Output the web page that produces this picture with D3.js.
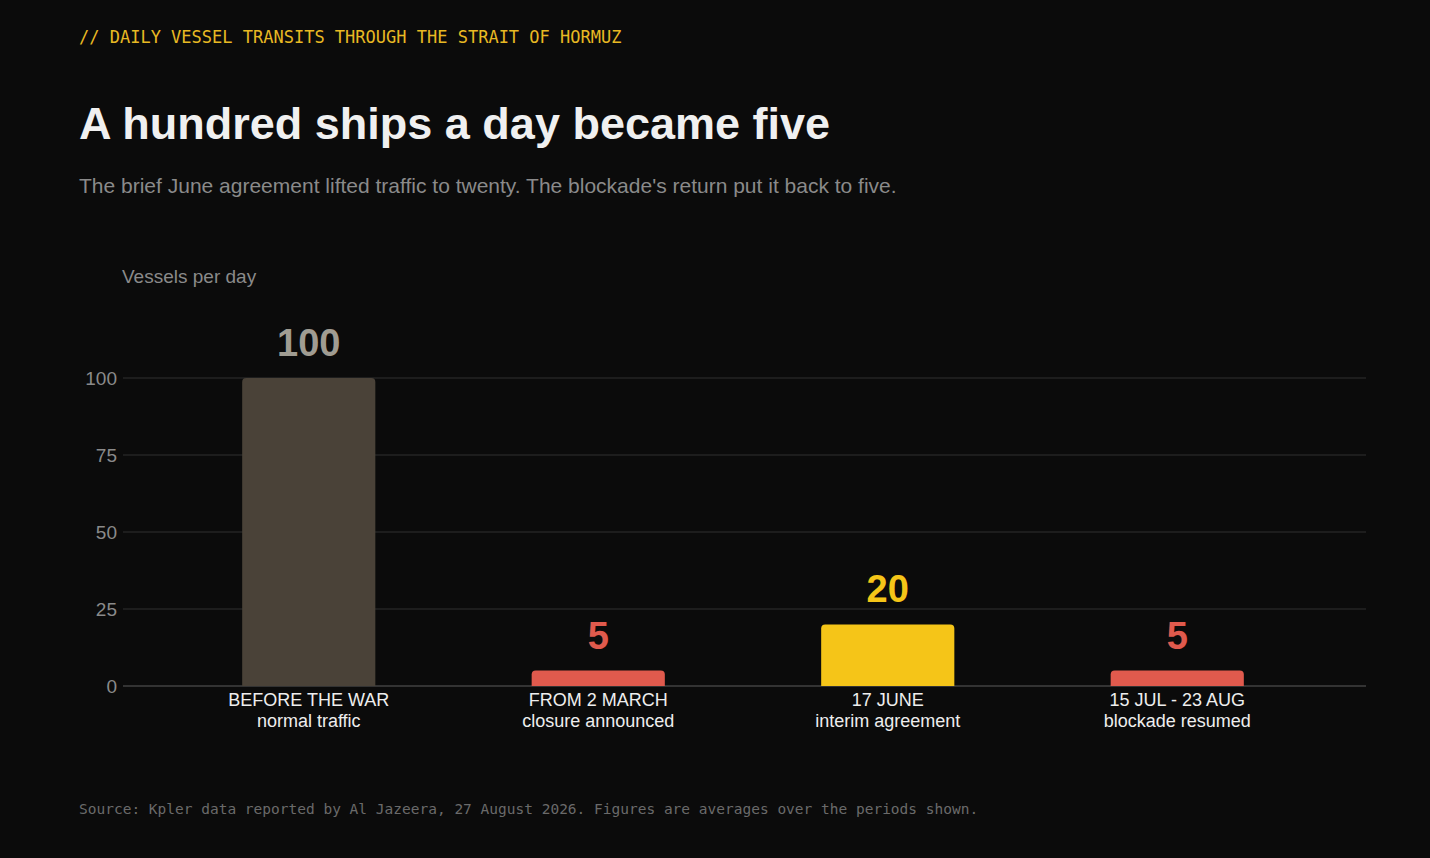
<!DOCTYPE html><html><head><meta charset="utf-8"><script src="https://cdn.jsdelivr.net/npm/d3@7"></script>
<style>body{margin:0;background:#0b0b0b}</style></head><body><svg id="c" width="1430" height="858"></svg>
<script>
const categories=["BEFORE THE WAR","FROM 2 MARCH","17 JUNE","15 JUL - 23 AUG"];
const subLabels=["normal traffic","closure announced","interim agreement","blockade resumed"];
const values=[100,5,20,5];
const barColors=["#4a4238","#e05a4d","#f5c518","#e05a4d"];
const labelColors=["#a09c92","#e05a4d","#f5c518","#e05a4d"];
const ticks=[0,25,50,75,100];
const svg=d3.select("#c");
svg.append("rect").attr("width",1430).attr("height",858).attr("fill","#0b0b0b");
const mono="'DejaVu Sans Mono',monospace", sans="'Liberation Sans',Arial,sans-serif";
svg.append("text").attr("x",79).attr("y",43).attr("fill","#e8b923").attr("font-family",mono).attr("font-size",17).text("// DAILY VESSEL TRANSITS THROUGH THE STRAIT OF HORMUZ");
svg.append("text").attr("x",79).attr("y",139).attr("fill","#f0f0f0").attr("font-family",sans).attr("font-weight","bold").attr("font-size",45).text("A hundred ships a day became five");
svg.append("text").attr("x",79).attr("y",193).attr("fill","#8a8a8a").attr("font-family",sans).attr("font-size",21).text("The brief June agreement lifted traffic to twenty. The blockade's return put it back to five.");
svg.append("text").attr("x",122).attr("y",283).attr("fill","#8a8a8a").attr("font-family",sans).attr("font-size",19).text("Vessels per day");
const y=d3.scaleLinear().domain([0,100]).range([686,378]);
const x=d3.scaleBand().domain(categories).range([164,1322]).paddingInner(0.54).paddingOuter(0.27);
const g=svg.append("g");
ticks.forEach(t=>{
 g.append("line").attr("x1",123).attr("x2",1366).attr("y1",y(t)).attr("y2",y(t)).attr("stroke",t===0?"#333":"#252525").attr("stroke-width",t===0?2:1.5);
 g.append("text").attr("x",117).attr("y",y(t)+7).attr("text-anchor","end").attr("fill","#8a8a8a").attr("font-family",sans).attr("font-size",19).text(t);
});
categories.forEach((c,i)=>{
 const x0=x(c),w=x.bandwidth(),yt=y(values[i]),h=686-yt,r=4;
 g.append("path").attr("fill",barColors[i]).attr("d",`M${x0},686V${yt+r}Q${x0},${yt} ${x0+r},${yt}H${x0+w-r}Q${x0+w},${yt} ${x0+w},${yt+r}V686Z`);
 g.append("text").attr("x",x0+w/2).attr("y",yt-22).attr("text-anchor","middle").attr("fill",labelColors[i]).attr("font-family",sans).attr("font-weight","bold").attr("font-size",38).text(values[i]);
 g.append("text").attr("x",x0+w/2).attr("y",706).attr("text-anchor","middle").attr("fill","#eee").attr("font-family",sans).attr("font-size",18).text(c);
 g.append("text").attr("x",x0+w/2).attr("y",727).attr("text-anchor","middle").attr("fill","#eee").attr("font-family",sans).attr("font-size",18).text(subLabels[i]);
});
svg.append("text").attr("x",79).attr("y",814).attr("fill","#6a6a6a").attr("font-family",mono).attr("font-size",14.5).text("Source: Kpler data reported by Al Jazeera, 27 August 2026. Figures are averages over the periods shown.");
</script></body></html>
